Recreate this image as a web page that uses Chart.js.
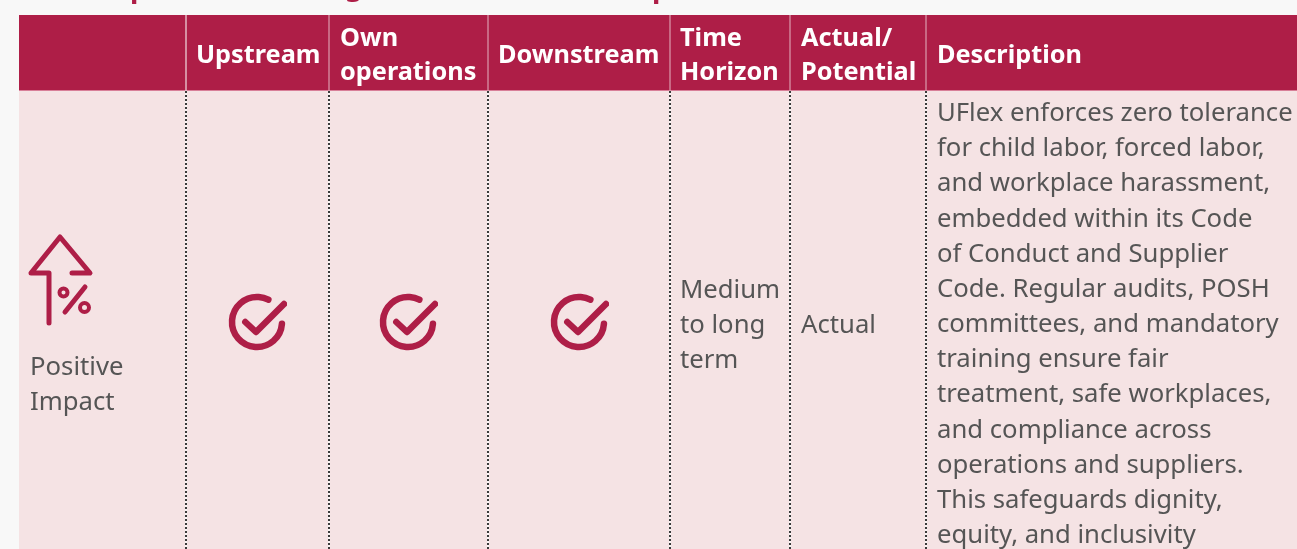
<!DOCTYPE html>
<html>
<head>
<meta charset="utf-8">
<style>
html, body { margin: 0; padding: 0; background: #f8f8f8; overflow: hidden; }
canvas { display: block; }
</style>
<script src="https://cdn.jsdelivr.net/npm/chart.js@4"></script>
</head>
<body>
<canvas id="impactChart" width="1297" height="549"></canvas>
<script>
// table content
const headers = [[], ['Upstream'], ['Own', 'operations'], ['Downstream'], ['Time', 'Horizon'], ['Actual/', 'Potential'], ['Description']];
const rowLabel = ['Positive', 'Impact'];
const chainChecks = [1, 1, 1];
const timeHorizon = ['Medium', 'to long', 'term'];
const actualPotential = ['Actual'];
const description = [
    'UFlex enforces zero tolerance',
    'for child labor, forced labor,',
    'and workplace harassment,',
    'embedded within its Code',
    'of Conduct and Supplier',
    'Code. Regular audits, POSH',
    'committees, and mandatory',
    'training ensure fair',
    'treatment, safe workplaces,',
    'and compliance across',
    'operations and suppliers.',
    'This safeguards dignity,',
    'equity, and inclusivity'
];

// layout
const columnEdges = [19, 186, 329, 488, 670, 790, 926, 1297];
const headerInset = [0, 10, 11, 10, 10, 11, 11];
const headerTop = 15, bodyTop = 91, rowMiddle = 322, lineHeight = 35.17;
const crimson = '#ae1e47', pink = '#f5e3e4', textGrey = '#555555';
const bodyFont = '25.7px "Noto Sans"', headFont = 'bold 25.3px "Noto Sans"';

function checkIcon() {
    const c = document.createElement('canvas');
    c.width = 60; c.height = 60;
    const g = c.getContext('2d');
    g.translate(30, 30);
    g.strokeStyle = crimson; g.lineWidth = 6.5; g.lineCap = 'round'; g.lineJoin = 'round';
    g.beginPath();
    g.arc(0, 0, 25, 4 * Math.PI / 180, 297 * Math.PI / 180);
    g.stroke();
    g.beginPath();
    g.moveTo(-11.7, 0); g.lineTo(-1, 10); g.lineTo(27, -18);
    g.stroke();
    return c;
}

function arrowIcon() {
    const c = document.createElement('canvas');
    c.width = 70; c.height = 96;
    const g = c.getContext('2d');
    g.translate(-25, -232);
    g.strokeStyle = crimson; g.lineWidth = 5; g.lineCap = 'round'; g.lineJoin = 'round';
    g.beginPath();
    g.moveTo(49, 323); g.lineTo(49, 273); g.lineTo(31, 273); g.lineTo(60, 237); g.lineTo(90, 273); g.lineTo(72, 273);
    g.stroke();
    g.beginPath();
    g.moveTo(85, 287); g.lineTo(65, 312);
    g.stroke();
    g.lineWidth = 4;
    g.beginPath(); g.arc(63.5, 292.5, 4, 0, Math.PI * 2); g.stroke();
    g.beginPath(); g.arc(84.5, 307.5, 4.5, 0, Math.PI * 2); g.stroke();
    return c;
}

function columnMiddle(i) {
    return Math.floor((columnEdges[i] + columnEdges[i + 1]) / 2);
}

function writeLines(g, lines, x, firstBaseline, step) {
    lines.forEach(function (line, i) {
        g.fillText(line, x, firstBaseline + i * step);
    });
}

const tablePlugin = {
    id: 'tablePlugin',
    beforeDraw: function (chart) {
        const g = chart.ctx, a = chart.chartArea, xs = chart.scales.x, ys = chart.scales.y;
        g.save();
        g.fillStyle = pink;
        g.fillRect(a.left, a.top, a.right - a.left, a.bottom - a.top);
        g.fillStyle = crimson;
        g.fillRect(a.left, ys.getPixelForValue(headerTop), a.right - a.left, bodyTop - headerTop);
        g.fillStyle = '#d87f98';
        g.fillRect(a.left, ys.getPixelForValue(bodyTop) - 1, a.right - a.left, 1);
        columnEdges.slice(1, -1).forEach(function (edge) {
            const px = xs.getPixelForValue(edge);
            g.fillStyle = edge === columnEdges[1] ? '#ffffff' : '#e3b3c1';
            g.fillRect(px - 0.5, headerTop, 1, bodyTop - headerTop);
            // pale gaps between the dots
            g.fillStyle = '#fbf5f5';
            g.fillRect(px - 1, a.top, 2, a.bottom - a.top);
        });
        g.restore();
    },
    afterDraw: function (chart) {
        const g = chart.ctx;
        g.save();
        g.textBaseline = 'alphabetic';
        g.fillStyle = crimson;
        g.font = 'bold 28px "Noto Sans"';
        g.fillText('p', 130, -3);
        g.fillText('g', 345, -5);
        g.fillText('p', 652, -3);

        g.fillStyle = '#ffffff';
        g.font = headFont;
        headers.forEach(function (lines, i) {
            if (!lines.length) return;
            writeLines(g, lines, columnEdges[i] + headerInset[i], lines.length === 1 ? 63 : 46, 34);
        });

        g.fillStyle = textGrey;
        g.font = bodyFont;
        writeLines(g, rowLabel, 30, 375, lineHeight);
        writeLines(g, timeHorizon, columnEdges[4] + 10, 298, lineHeight);
        writeLines(g, actualPotential, columnEdges[5] + 11, 333, lineHeight);
        writeLines(g, description, columnEdges[6] + 11, 121, lineHeight);
        g.restore();
    }
};

new Chart(document.getElementById('impactChart').getContext('2d'), {
    type: 'scatter',
    data: {
        datasets: [
            {
                label: 'Value chain',
                data: chainChecks.map(function (v, i) { return { x: columnMiddle(i + 1), y: rowMiddle }; }),
                pointStyle: checkIcon(),
                clip: false
            },
            {
                label: 'Positive impact',
                data: [{ x: 60, y: 280 }],
                pointStyle: arrowIcon(),
                clip: false
            }
        ]
    },
    options: {
        responsive: false,
        animation: false,
        events: [],
        layout: { autoPadding: false, padding: { left: columnEdges[0], top: bodyTop, right: 0, bottom: 0 } },
        plugins: { legend: { display: false }, tooltip: { enabled: false } },
        scales: {
            x: {
                type: 'linear',
                min: columnEdges[0],
                max: columnEdges[columnEdges.length - 1],
                afterBuildTicks: function (axis) {
                    axis.ticks = columnEdges.slice(1, -1).map(function (v) { return { value: v }; });
                },
                ticks: { display: false },
                border: { display: false, dash: [2, 2] },
                grid: { color: '#3a3a3a', lineWidth: 2, drawTicks: false }
            },
            y: {
                type: 'linear',
                display: false,
                reverse: true,
                min: bodyTop,
                max: 549
            }
        }
    },
    plugins: [tablePlugin]
});
</script>
</body>
</html>
